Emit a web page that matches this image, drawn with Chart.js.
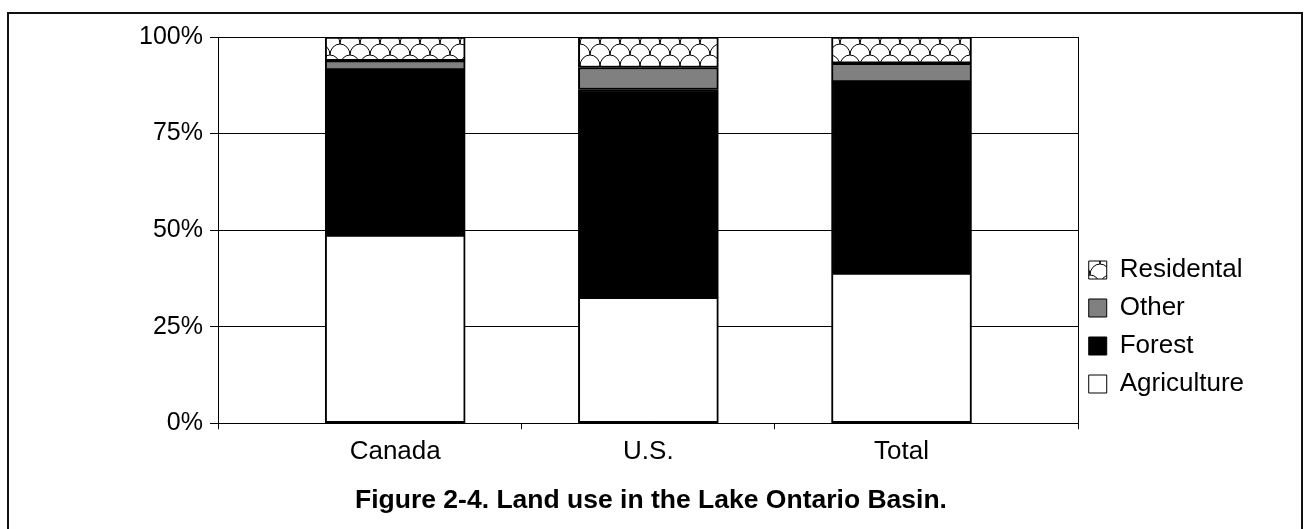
<!DOCTYPE html>
<html>
<head>
<meta charset="utf-8">
<script src="https://cdn.jsdelivr.net/npm/chart.js@4/dist/chart.umd.min.js"></script>
<style>
    body { margin: 0; background: #fff; }
    #wrap { position: relative; width: 1304px; height: 529px; overflow: hidden; }
    #frame { position: absolute; left: 7px; top: 12px; width: 1292px; height: 600px; border: 2px solid #111; pointer-events: none; }
</style>
</head>
<body>
<div id="wrap">
    <canvas id="chart"></canvas>
    <div id="frame"></div>
</div>
<script>
const categories = ['Canada', 'U.S.', 'Total'];
const agriculture = [48.7, 32.6, 38.9];
const forest = [42.8, 53.8, 49.5];
const other = [2.4, 5.7, 4.8];
const residental = [6.1, 7.9, 6.8];
const yTicks = [0, 25, 50, 75, 100];
// x positions: bars sit at 1..3, boundary ticks in between, plot edges at 0.3 / 3.7
const xTicks = [0.3, 1, 1.5, 2, 2.5, 3, 3.7];

Chart.defaults.font.family = '"Liberation Sans", Arial, sans-serif';
Chart.defaults.color = '#000';

function scalePattern() {
    const c = document.createElement('canvas');
    c.width = 20;
    c.height = 22;
    const g = c.getContext('2d');
    g.fillStyle = '#fff';
    g.fillRect(0, 0, 20, 22);
    g.strokeStyle = '#000';
    g.lineWidth = 1;
    for (let j = -1; j <= 3; j++) {
        for (let i = -1; i <= 1; i++) {
            const cx = 10 + i * 20 + (j % 2 ? 10 : 0);
            const cy = j * 11;
            g.beginPath();
            g.ellipse(cx, cy, 10, 11, 0, Math.PI, Math.PI * 2);
            g.stroke();
        }
    }
    return g.createPattern(c, 'repeat');
}

const toPoints = vals => vals.map((v, i) => ({ x: i + 1, y: v }));

const barStyle = { borderColor: '#000', borderWidth: 2, borderSkipped: false, barThickness: 140 };

// move the legend block down/left to where the original sits
const legendNudge = {
    id: 'legendNudge',
    afterLayout(chart) {
        const lg = chart.legend;
        lg.top += 50;
        lg.bottom += 50;
        lg.left -= 2;
        lg.right -= 2;
    }
};

new Chart(document.getElementById('chart'), {
    type: 'bar',
    data: {
        datasets: [
            { label: 'Agriculture', data: toPoints(agriculture), backgroundColor: '#fff', ...barStyle },
            { label: 'Forest', data: toPoints(forest), backgroundColor: '#000', ...barStyle },
            { label: 'Other', data: toPoints(other), backgroundColor: '#808080', ...barStyle },
            { label: 'Residental', data: toPoints(residental), backgroundColor: scalePattern(), ...barStyle }
        ]
    },
    options: {
        responsive: true,
        maintainAspectRatio: false,
        animation: false,
        layout: { padding: { top: 37, left: 46, right: 48, bottom: 12 } },
        plugins: {
            legend: {
                position: 'right',
                reverse: true,
                labels: {
                    font: { size: 26 },
                    boxWidth: 18,
                    boxHeight: 18,
                    padding: 12,
                    generateLabels: (chart) => {
                        const items = Chart.defaults.plugins.legend.labels.generateLabels(chart);
                        items.forEach(it => it.lineWidth = 1);
                        return items;
                    }
                }
            },
            title: {
                display: true,
                position: 'bottom',
                text: 'Figure 2-4. Land use in the Lake Ontario Basin.',
                font: { size: 26.5, weight: 'bold' },
                padding: 0
            },
            tooltip: { enabled: false }
        },
        scales: {
            x: {
                type: 'linear',
                stacked: true,
                offset: false,
                min: 0.3,
                max: 3.7,
                afterBuildTicks: (axis) => { axis.ticks = xTicks.map(v => ({ value: v })); },
                afterFit: (axis) => { axis.height = 62; },
                ticks: {
                    autoSkip: false,
                    maxRotation: 0,
                    padding: 7,
                    font: { size: 26 },
                    callback: (v) => Number.isInteger(v) ? categories[v - 1] : ''
                },
                grid: {
                    offset: false,
                    drawOnChartArea: true,
                    tickLength: 6,
                    color: (ctx) => (ctx.tick && (ctx.tick.value === 0.3 || ctx.tick.value === 3.7)) ? '#000' : 'transparent',
                    tickColor: (ctx) => (ctx.tick && Number.isInteger(ctx.tick.value)) ? 'transparent' : '#000',
                    lineWidth: 1
                },
                border: { display: true, color: '#000', width: 1 }
            },
            y: {
                stacked: true,
                min: 0,
                max: 100,
                afterBuildTicks: (axis) => { axis.ticks = yTicks.map(v => ({ value: v })); },
                afterFit: (axis) => { axis.width = 172; },
                ticks: {
                    padding: 7,
                    font: { size: 25 },
                    callback: (v) => v + '%'
                },
                grid: { color: '#000', lineWidth: 1, tickLength: 8 },
                border: { display: true, color: '#000', width: 1 }
            }
        }
    },
    plugins: [legendNudge]
});
</script>
</body>
</html>
